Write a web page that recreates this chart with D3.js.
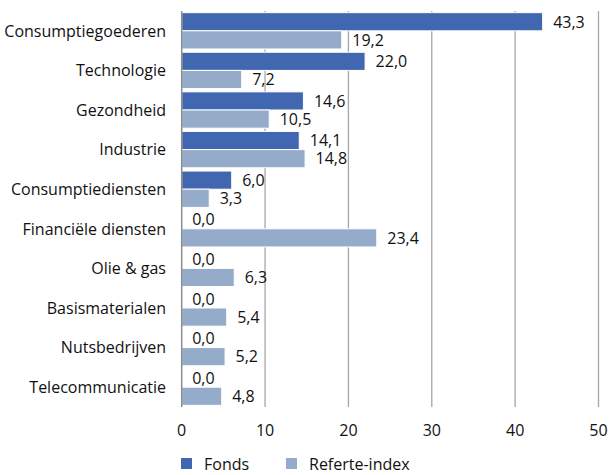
<!DOCTYPE html>
<html>
<head>
<meta charset="utf-8">
<script src="https://cdn.jsdelivr.net/npm/d3@7"></script>
<style>
  html, body { margin: 0; padding: 0; background: #fff; }
  svg text { font-family: "Open Sans", "Noto Sans", sans-serif; fill: #111; }
</style>
</head>
<body>
<svg id="chart" width="609" height="475"></svg>
<script>
// Sector weights (%) of the fund versus its reference index
const categories = [
  "Consumptiegoederen", "Technologie", "Gezondheid", "Industrie",
  "Consumptiediensten", "Financiële diensten", "Olie & gas",
  "Basismaterialen", "Nutsbedrijven", "Telecommunicatie"
];
const fonds = [43.3, 22.0, 14.6, 14.1, 6.0, 0.0, 0.0, 0.0, 0.0, 0.0];
const referteIndex = [19.2, 7.2, 10.5, 14.8, 3.3, 23.4, 6.3, 5.4, 5.2, 4.8];
const seriesNames = ["Fonds", "Referte-index"];
const seriesColors = ["#4167b0", "#94abca"];
const xTicks = [0, 10, 20, 30, 40, 50];

const fmt = v => v.toFixed(1).replace(".", ",");
const fontSize = 16;

const svg = d3.select("#chart");
const plotLeft = 181.7, plotRight = 598.5, plotTop = 11, plotBottom = 407;

const x = d3.scaleLinear().domain([0, 50]).range([plotLeft, plotRight]);
const y = d3.scaleBand().domain(categories).range([plotTop, plotBottom])
  .paddingInner(0.083).paddingOuter(0.042);
const ySub = d3.scaleBand().domain(seriesNames).range([0, y.bandwidth()]);

// vertical gridlines
svg.append("g").selectAll("line")
  .data(xTicks.filter(t => t > 0))
  .join("line")
  .attr("x1", d => x(d)).attr("x2", d => x(d))
  .attr("y1", plotTop).attr("y2", plotBottom)
  .attr("stroke", "#a6a6a6").attr("stroke-width", 1.3);

// bars
const rows = categories.map((c, i) => ({
  cat: c,
  vals: [
    { s: seriesNames[0], v: fonds[i], color: seriesColors[0] },
    { s: seriesNames[1], v: referteIndex[i], color: seriesColors[1] }
  ]
}));

const groups = svg.append("g").selectAll("g")
  .data(rows).join("g")
  .attr("transform", d => `translate(0,${y(d.cat)})`);

groups.selectAll("rect")
  .data(d => d.vals).join("rect")
  .attr("x", x(0))
  .attr("y", d => ySub(d.s))
  .attr("width", d => x(d.v) - x(0))
  .attr("height", ySub.bandwidth())
  .attr("fill", d => d.color)
  .attr("stroke", "#fff").attr("stroke-width", 1);

groups.selectAll("text")
  .data(d => d.vals).join("text")
  .attr("x", d => x(d.v) + 10.5)
  .attr("y", d => ySub(d.s) + ySub.bandwidth() / 2)
  .attr("dy", "0.36em")
  .attr("font-size", fontSize)
  .text(d => fmt(d.v));

// zero axis line
svg.append("line")
  .attr("x1", x(0)).attr("x2", x(0))
  .attr("y1", plotTop).attr("y2", plotBottom)
  .attr("stroke", "#8c8c8c").attr("stroke-width", 1.5);

// category labels
svg.append("g").selectAll("text")
  .data(categories).join("text")
  .attr("x", 166)
  .attr("y", d => y(d) + y.bandwidth() / 2)
  .attr("dy", "0.36em")
  .attr("text-anchor", "end")
  .attr("font-size", fontSize)
  .text(d => d);

// x tick labels
svg.append("g").selectAll("text")
  .data(xTicks).join("text")
  .attr("x", d => x(d))
  .attr("y", 430)
  .attr("dy", "0.36em")
  .attr("text-anchor", "middle")
  .attr("font-size", fontSize)
  .text(d => d);

// legend
const legend = svg.append("g").selectAll("g")
  .data(seriesNames).join("g")
  .attr("transform", (d, i) => `translate(${[181, 286][i]},458)`);
legend.append("rect")
  .attr("width", 11).attr("height", 11)
  .attr("fill", (d, i) => seriesColors[i]);
legend.append("text")
  .attr("x", 23).attr("y", 6).attr("dy", "0.36em")
  .attr("font-size", fontSize)
  .text(d => d);
</script>
</body>
</html>
